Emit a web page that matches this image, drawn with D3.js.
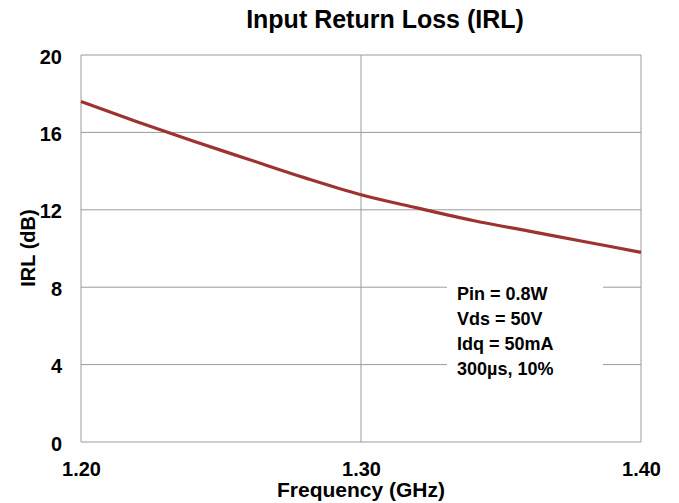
<html>
<head>
  <meta charset='utf-8' />
  <style>
    text { font-family: Arial, 'Liberation Sans', sans-serif; font-weight: bold; fill: #000; }
  </style>
</head>

<body style='padding: 0; margin: 0; background: white;'>
  <svg width='679' height='503' style='background-color: white'></svg>
</body>

<script src="https://d3js.org/d3.v7.min.js"></script>

<script>
///////////////////
/// Data
///////////////////

  freqGHz = [1.20, 1.22, 1.24, 1.26, 1.28, 1.30, 1.32, 1.34, 1.36, 1.38, 1.40];
  irlDb   = [17.6, 16.55, 15.55, 14.6, 13.65, 12.78, 12.1, 11.45, 10.9, 10.35, 9.8];

  xTicks = [1.20, 1.30, 1.40];
  yTicks = [0, 4, 8, 12, 16, 20];
  noteLines = ['Pin = 0.8W', 'Vds = 50V', 'Idq = 50mA', '300\u00b5s, 10%'];

///////////////////
/// Scales
///////////////////

  svg = d3.select('svg');

  x = d3.scaleLinear().domain([1.20, 1.40]).range([81, 641]);
  y = d3.scaleLinear().domain([0, 20]).range([442, 55]);

///////////////////
/// Grid + frame
///////////////////

  grid = svg.append('g').attr('id', 'grid');

  grid.selectAll('.hgrid')
    .data(yTicks)
    .enter().append('line')
    .attr('class', 'hgrid')
    .attr('x1', x(1.20)).attr('x2', x(1.40))
    .attr('y1', d => y(d)).attr('y2', d => y(d))
    .style('stroke', '#9a9a9a')
    .style('stroke-width', 1);

  grid.selectAll('.vgrid')
    .data(xTicks)
    .enter().append('line')
    .attr('class', 'vgrid')
    .attr('x1', d => x(d)).attr('x2', d => x(d))
    .attr('y1', y(0)).attr('y2', y(20))
    .style('stroke', '#9a9a9a')
    .style('stroke-width', 1);

///////////////////
/// Axes labels
///////////////////

  xAxis = d3.axisBottom(x).tickValues(xTicks).tickFormat(d3.format('.2f')).tickSize(0).tickPadding(20);
  yAxis = d3.axisLeft(y).tickValues(yTicks).tickFormat(d3.format('d')).tickSize(0).tickPadding(19);

  gx = svg.append('g').attr('transform', `translate(0, ${y(0)})`).call(xAxis);
  gy = svg.append('g').attr('transform', `translate(${x(1.20)}, 0)`).call(yAxis);

  [gx, gy].forEach(g => {
    g.select('.domain').remove();
    g.selectAll('text')
      .style('font-size', '20px')
      .style('font-family', 'Arial, "Liberation Sans", sans-serif')
      .style('font-weight', 'bold')
      .attr('fill', '#000');
  });
  gy.selectAll('text').attr('dy', '0.4em');

///////////////////
/// Curve
///////////////////

  line = d3.line()
    .x((d, i) => x(freqGHz[i]))
    .y(d => y(d))
    .curve(d3.curveMonotoneX);

  svg.append('path')
    .datum(irlDb)
    .attr('fill', 'none')
    .attr('stroke', '#9c3330')
    .attr('stroke-width', 3.2)
    .attr('d', line);

///////////////////
/// Conditions note
///////////////////

  note = svg.append('g').attr('id', 'note');

  note.append('rect')
    .attr('x', 447).attr('y', 282)
    .attr('width', 156).attr('height', 102)
    .style('fill', 'white');

  note.selectAll('text')
    .data(noteLines)
    .enter().append('text')
    .attr('x', 457)
    .attr('y', (d, i) => 300 + i * 25)
    .style('font-size', '18px')
    .text(d => d);

///////////////////
/// Titles
///////////////////

  svg.append('text')
    .attr('x', 385).attr('y', 28)
    .attr('text-anchor', 'middle')
    .style('font-size', '25px')
    .text('Input Return Loss (IRL)');

  svg.append('text')
    .attr('x', 361).attr('y', 497)
    .attr('text-anchor', 'middle')
    .style('font-size', '21px')
    .text('Frequency (GHz)');

  svg.append('text')
    .attr('transform', 'translate(35, 248) rotate(-90)')
    .attr('text-anchor', 'middle')
    .style('font-size', '20px')
    .text('IRL (dB)');

</script>
</html>
